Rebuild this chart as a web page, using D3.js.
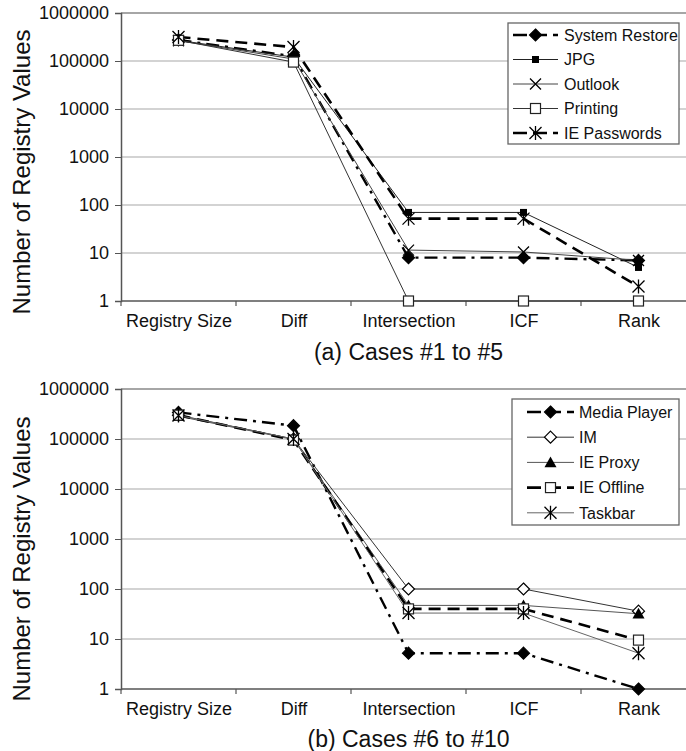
<!DOCTYPE html>
<html><head><meta charset="utf-8">
<script src="https://cdn.jsdelivr.net/npm/d3@7/dist/d3.min.js"></script>
<style>body{margin:0;background:#fff}svg{display:block;font-family:"Liberation Sans",Arial,sans-serif}</style>
</head><body><svg id="c" width="686" height="751"></svg>
<script>
const categories = ["Registry Size","Diff","Intersection","ICF","Rank"];
const yTicks = [1,10,100,1000,10000,100000,1000000];
const yLabel = "Number of Registry Values";
const titleA = "(a) Cases #1 to #5";
const titleB = "(b) Cases #6 to #10";

const namesA = ["System Restore","JPG","Outlook","Printing","IE Passwords"];
const systemRestore = [275000,125000,8,8,7];
const jpg = [270000,120000,70,70,5];
const outlook = [265000,110000,11.5,10.5,7];
const printing = [270000,95000,1,1,1];
const iePasswords = [316000,195000,52,52,2];

const namesB = ["Media Player","IM","IE Proxy","IE Offline","Taskbar"];
const mediaPlayer = [340000,185000,5.2,5.2,1];
const im = [300000,100000,100,100,36];
const ieProxy = [285000,98000,47,47,32];
const ieOffline = [300000,95000,40,40,9.5];
const taskbar = [295000,100000,33,33,5.2];

const svg = d3.select("#c");

const stylesA = [
  {w:2.4, dash:"13,6,3,6", m:"diamondFill"},
  {w:1, dash:null, m:"squareSmall", c:"#222"},
  {w:1, dash:null, m:"x", c:"#444"},
  {w:1, dash:null, m:"squareOpen", c:"#333"},
  {w:2.6, dash:"12,7", m:"star"}
];
const stylesB = [
  {w:2.4, dash:"13,6,3,6", m:"diamondFill"},
  {w:1, dash:null, m:"diamondOpen", c:"#333"},
  {w:1, dash:null, m:"triangle", c:"#555"},
  {w:2.6, dash:"12,7", m:"squareOpen"},
  {w:1, dash:null, m:"star", c:"#666"}
];

function marker(g, type, x, y){
  if(type==="diamondFill"||type==="diamondOpen"){
    const s=6;
    g.append("path").attr("d",`M${x},${y-s}L${x+s},${y}L${x},${y+s}L${x-s},${y}Z`)
      .attr("fill", type==="diamondFill"?"#000":"#fff").attr("stroke","#000").attr("stroke-width",1.2);
  } else if(type==="squareSmall"){
    g.append("rect").attr("x",x-3.5).attr("y",y-3.5).attr("width",7).attr("height",7).attr("fill","#000");
  } else if(type==="squareOpen"){
    g.append("rect").attr("x",x-5).attr("y",y-5).attr("width",10).attr("height",10)
      .attr("fill","#fff").attr("stroke","#222").attr("stroke-width",1.2);
  } else if(type==="x"){
    const s=5.5;
    g.append("path").attr("d",`M${x-s},${y-s}L${x+s},${y+s}M${x-s},${y+s}L${x+s},${y-s}`)
      .attr("stroke","#000").attr("stroke-width",1.3).attr("fill","none");
  } else if(type==="star"){
    const s=6;
    g.append("path").attr("d",`M${x-s},${y-s}L${x+s},${y+s}M${x-s},${y+s}L${x+s},${y-s}M${x},${y-s-1}L${x},${y+s+1}`)
      .attr("stroke","#000").attr("stroke-width",1.3).attr("fill","none");
  } else if(type==="triangle"){
    const s=6;
    g.append("path").attr("d",`M${x},${y-s}L${x+s},${y+s*0.8}L${x-s},${y+s*0.8}Z`).attr("fill","#000");
  }
}

function chart(cfg){
  const x = d3.scalePoint().domain(categories).range([cfg.left, cfg.right]).padding(0.5);
  const y = d3.scaleLog().domain([1,1000000]).range([cfg.bottom, cfg.top]);
  const g = svg.append("g");
  g.selectAll(".grid").data(yTicks.filter(d=>d>1)).enter().append("line")
    .attr("x1",cfg.left).attr("x2",686).attr("y1",d=>y(d)).attr("y2",d=>y(d))
    .attr("stroke",d=>d===1000000?"#888":"#c4c4c4").attr("stroke-width",1.6);
  const ya = d3.axisLeft(y).tickValues(yTicks).tickFormat(d3.format("d")).tickSize(6).tickPadding(6);
  const yg = g.append("g").attr("transform",`translate(${cfg.left},0)`).call(ya);
  yg.select(".domain").attr("stroke","#555").attr("stroke-width",1.5);
  yg.selectAll(".tick line").attr("stroke","#555");
  yg.selectAll("text").attr("font-size",18).attr("fill","#111").attr("font-family","Liberation Sans, Arial, sans-serif");
  const xa = d3.axisBottom(x).tickSize(0).tickPadding(13);
  const xg = g.append("g").attr("transform",`translate(0,${cfg.bottom})`).call(xa);
  xg.select(".domain").attr("d",`M${cfg.left},0H${cfg.right}`).attr("stroke","#555").attr("stroke-width",1.5);
  xg.selectAll("text").attr("font-size",18).attr("fill","#111").attr("font-family","Liberation Sans, Arial, sans-serif");
  const step = x.step();
  const bounds = d3.range(categories.length+1).map(i=>cfg.left + i*step);
  g.selectAll(".xt").data(bounds).enter().append("line")
    .attr("x1",d=>d).attr("x2",d=>d).attr("y1",cfg.bottom).attr("y2",cfg.bottom+5)
    .attr("stroke","#555").attr("stroke-width",1.2);
  g.append("text").attr("transform",`translate(${cfg.ylx},${(cfg.top+cfg.bottom)/2+cfg.yoff}) rotate(-90)`)
    .attr("text-anchor","middle").attr("font-size",24).attr("fill","#111").text(yLabel);
  g.append("text").attr("x",(cfg.left+cfg.right)/2).attr("y",cfg.titleY).attr("text-anchor","middle")
    .attr("font-size",23).attr("fill","#111").text(cfg.title);
  const line = d3.line().x((d,i)=>x(categories[i])).y(d=>y(d));
  cfg.series.forEach((s,k)=>{
    const st = cfg.styles[k];
    g.append("path").datum(s).attr("d",line).attr("fill","none")
      .attr("stroke",st.c||"#000").attr("stroke-width",st.w)
      .attr("stroke-dasharray",st.dash);
  });
  cfg.series.forEach((s,k)=>{
    const st = cfg.styles[k];
    s.forEach((v,i)=>marker(g, st.m, x(categories[i]), y(v)));
  });
  const L = cfg.legend;
  g.append("rect").attr("x",L.x).attr("y",L.y).attr("width",L.w).attr("height",L.h)
    .attr("fill","#fff").attr("stroke","#666").attr("stroke-width",1.3);
  cfg.names.forEach((n,k)=>{
    const st = cfg.styles[k];
    const yy = L.first + k*L.gap;
    g.append("line").attr("x1",L.lx1).attr("x2",L.lx2).attr("y1",yy).attr("y2",yy)
      .attr("stroke",st.c||"#000").attr("stroke-width",st.w)
      .attr("stroke-dasharray",st.dash?"14,6":null);
    marker(g, st.m, (L.lx1+L.lx2)/2, yy);
    g.append("text").attr("x",L.tx).attr("y",yy).attr("dy","0.36em").attr("font-size",16)
      .attr("fill","#111").text(n);
  });
}

chart({left:121,right:696,top:13,bottom:301,ylx:30,yoff:15,titleY:360,title:titleA,
  series:[systemRestore,jpg,outlook,printing,iePasswords],styles:stylesA,names:namesA,
  legend:{x:508,y:23,w:171,h:121,first:35,gap:24.5,lx1:513,lx2:558,tx:564}});
chart({left:121,right:696,top:389,bottom:689,ylx:30,yoff:20,titleY:747,title:titleB,
  series:[mediaPlayer,im,ieProxy,ieOffline,taskbar],styles:stylesB,names:namesB,
  legend:{x:512,y:399,w:167,h:126,first:412,gap:25.2,lx1:527,lx2:574,tx:579}});
</script></body></html>
